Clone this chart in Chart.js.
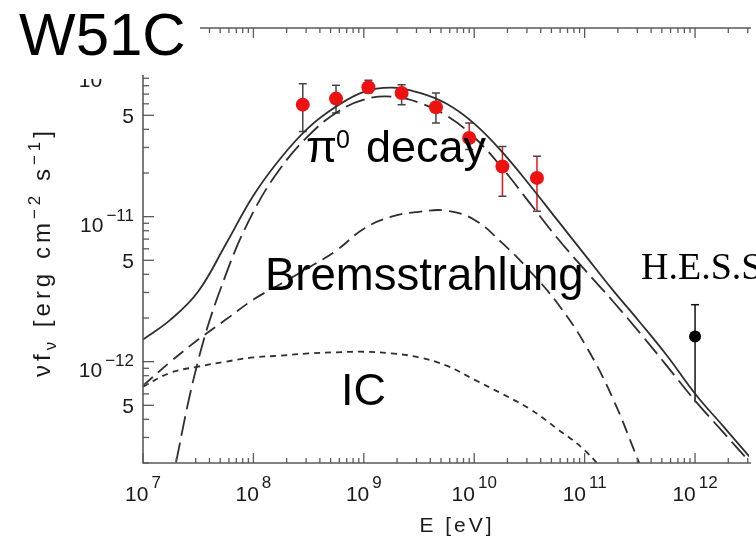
<!DOCTYPE html>
<html>
<head>
<meta charset="utf-8">
<script src="https://cdn.jsdelivr.net/npm/chart.js@4.4.1/dist/chart.umd.min.js"></script>
<style>
html,body{margin:0;padding:0;background:#fff;}
#wrap{width:756px;height:536px;position:relative;}
</style>
</head>
<body>
<div id="wrap"><canvas id="c" width="756" height="536"></canvas></div>
<script>
// ---------- data ----------
const energyGrid = [1e7, 1.778e7, 3.162e7, 5.623e7, 1e8, 1.778e8, 3.162e8, 5.623e8, 1e9, 1.778e9, 3.162e9, 5.623e9,
  1e10, 1.778e10, 3.162e10, 5.623e10, 1e11, 1.778e11, 3.162e11, 5.623e11, 1e12, 1.778e12, 3.162e12];
const totalFlux = [1.42e-12, 1.95e-12, 3.05e-12, 6.45e-12, 1.40e-11, 2.55e-11, 4.11e-11, 5.74e-11, 7.25e-11, 7.76e-11, 7.16e-11, 6.00e-11,
  4.38e-11, 2.81e-11, 1.66e-11, 9.53e-12, 5.47e-12, 3.15e-12, 1.87e-12, 1.09e-12, 6.01e-13, 3.62e-13, 2.18e-13];
const pi0Flux = [null, 1.33e-13, 1.02e-12, 3.98e-12, 1.08e-11, 2.18e-11, 3.62e-11, 5.21e-11, 6.41e-11, 6.73e-11, 6.11e-11, 4.97e-11,
  3.53e-11, 2.18e-11, 1.25e-11, 7.15e-12, 4.31e-12, 2.64e-12, 1.58e-12, 9.24e-13, 5.38e-13, 3.29e-13, 2.01e-13];
const bremsFlux = [6.83e-13, 1.00e-12, 1.42e-12, 1.95e-12, 2.68e-12, 3.45e-12, 4.45e-12, 5.83e-12, 8.26e-12, 1.00e-11, 1.08e-11, 1.10e-11,
  9.53e-12, 6.62e-12, 4.25e-12, 2.55e-12, 1.33e-12, 5.70e-13, 1.95e-13, null, null, null, null];
const icFlux = [6.73e-13, 8.39e-13, 9.24e-13, 1.00e-12, 1.07e-12, 1.10e-12, 1.14e-12, 1.16e-12, 1.17e-12, 1.14e-12, 1.07e-12, 9.38e-13,
  7.52e-13, 6.01e-13, 4.74e-13, 3.45e-13, 2.45e-13, 1.50e-13, null, null, null, null, null];

const fermiE  = [2.8e8, 5.6e8, 1.1e9, 2.2e9, 4.5e9, 9.0e9, 1.8e10, 3.7e10];
const fermiF  = [5.92e-11, 6.52e-11, 7.80e-11, 7.13e-11, 5.68e-11, 3.49e-11, 2.22e-11, 1.85e-11];
const fermiHi = [8.26e-11, 8.05e-11, 8.71e-11, 8.13e-11, 7.13e-11, 4.43e-11, 3.05e-11, 2.61e-11];
const fermiLo = [3.87e-11, 5.19e-11, 7.13e-11, 5.92e-11, 4.43e-11, 2.90e-11, 1.38e-11, 1.09e-11];

const hessE  = [1e12];
const hessF  = [1.49e-12];
const hessHi = [2.47e-12];
const hessLo = [5.24e-13];

const xTickValues = [1e7, 1e8, 1e9, 1e10, 1e11, 1e12];
const xTickExp    = ['7', '8', '9', '10', '11', '12'];
const yTickValues = [1e-12, 1e-11, 1e-10];
const yTickExp    = ['\u221212', '\u221211', '\u221210'];
const yFiveValues = [5e-13, 5e-12, 5e-11];
const yFiveLabel  = '5';

const titleText = 'W51C';
const xTitle = 'E [eV]';
const labelPi0 = ['\u03c0', '0', 'decay'];
const labelBrems = 'Bremsstrahlung';
const labelIC = 'IC';
const labelHess = 'H.E.S.S.';

// ---------- drawing ----------
const SANS = '"Liberation Sans", Arial, sans-serif';
const SERIF = '"Liberation Serif", "Times New Roman", serif';
const AXIS = '#5a5a5a';
const CURVE = '#2e2e2e';

function pts(xs, ys){ return xs.map((x,i)=>({x:x, y:ys[i]})); }

const overlay = {
  id: 'overlay',
  beforeDatasetsDraw(chart){
    const ctx = chart.ctx, xs = chart.scales.x, ys = chart.scales.y;
    ctx.save();
    ctx.lineWidth = 1.5;
    for (let i = 0; i < fermiE.length; i++){
      const px = xs.getPixelForValue(fermiE[i]);
      const yh = ys.getPixelForValue(fermiHi[i]);
      const yl = ys.getPixelForValue(fermiLo[i]);
      ctx.strokeStyle = i >= 5 ? '#e8141c' : '#444';
      ctx.beginPath(); ctx.moveTo(px, yh); ctx.lineTo(px, yl); ctx.stroke();
      ctx.strokeStyle = '#444';
      ctx.beginPath();
      ctx.moveTo(px-4, yh); ctx.lineTo(px+4, yh);
      ctx.moveTo(px-4, yl); ctx.lineTo(px+4, yl);
      ctx.stroke();
    }
    ctx.strokeStyle = '#111';
    for (let i = 0; i < hessE.length; i++){
      const px = xs.getPixelForValue(hessE[i]);
      const yh = ys.getPixelForValue(hessHi[i]);
      const yl = ys.getPixelForValue(hessLo[i]);
      ctx.beginPath(); ctx.moveTo(px, yh); ctx.lineTo(px, yl); ctx.stroke();
      ctx.beginPath(); ctx.moveTo(px-4, yh); ctx.lineTo(px+4, yh); ctx.stroke();
    }
    ctx.restore();
  },
  afterDraw(chart){
    const ctx = chart.ctx, xs = chart.scales.x, ys = chart.scales.y, a = chart.chartArea;
    ctx.save();
    // axes box
    ctx.strokeStyle = AXIS; ctx.lineWidth = 1.6;
    ctx.beginPath();
    ctx.moveTo(a.left, a.top); ctx.lineTo(a.left, a.bottom); ctx.lineTo(a.right+2, a.bottom);
    ctx.moveTo(a.left, a.top); ctx.lineTo(a.right+2, a.top);
    ctx.stroke();
    // ticks
    ctx.lineWidth = 1.3;
    const xmin = Math.log10(xs.min), xmax = Math.log10(xs.max);
    for (let d = Math.floor(xmin); d <= Math.ceil(xmax); d++){
      for (let m = 1; m <= 9; m++){
        const v = m * Math.pow(10, d);
        if (v < xs.min*0.999 || v > xs.max) continue;
        const px = xs.getPixelForValue(v);
        const len = m === 1 ? 10 : 5;
        ctx.beginPath();
        ctx.moveTo(px, a.bottom); ctx.lineTo(px, a.bottom - len);
        ctx.moveTo(px, a.top); ctx.lineTo(px, a.top + len);
        ctx.stroke();
      }
    }
    const ymin = Math.log10(ys.min), ymax = Math.log10(ys.max);
    for (let d = Math.floor(ymin); d <= Math.ceil(ymax); d++){
      for (let m = 1; m <= 9; m++){
        const v = m * Math.pow(10, d);
        if (v < ys.min*0.999 || v > ys.max*1.001) continue;
        const py = ys.getPixelForValue(v);
        const len = (m === 1 || m === 5) ? 11 : 6;
        ctx.beginPath(); ctx.moveTo(a.left, py); ctx.lineTo(a.left + len, py); ctx.stroke();
      }
    }
    // tick labels
    ctx.fillStyle = '#1a1a1a';
    ctx.textBaseline = 'alphabetic';
    ctx.textAlign = 'left';
    const baseFont = '21px ' + SANS, expFont = '17px ' + SANS;
    function powWidth(b, e){
      ctx.font = baseFont; const wb = ctx.measureText(b).width;
      ctx.font = expFont; const we = ctx.measureText(e).width;
      return [wb, we, wb + 3 + we];
    }
    function drawPow(b, e, x0, yb, ye){
      const w = powWidth(b, e);
      ctx.font = baseFont; ctx.fillText(b, x0, yb);
      ctx.font = expFont; ctx.fillText(e, x0 + w[0] + 3, ye);
    }
    for (let i = 0; i < xTickValues.length; i++){
      const px = xs.getPixelForValue(xTickValues[i]);
      const w = powWidth('10', xTickExp[i]);
      drawPow('10', xTickExp[i], px - w[2]/2, a.bottom + 38, a.bottom + 25);
    }
    for (let i = 0; i < yTickValues.length; i++){
      const py = ys.getPixelForValue(yTickValues[i]);
      const w = powWidth('10', yTickExp[i]);
      drawPow('10', yTickExp[i], 134 - w[2], py + 15, py + 4);
    }
    ctx.font = baseFont; ctx.textAlign = 'right';
    for (let i = 0; i < yFiveValues.length; i++){
      const py = ys.getPixelForValue(yFiveValues[i]);
      ctx.fillText(yFiveLabel, 134, py + 8);
    }
    // axis titles
    ctx.textAlign = 'center';
    ctx.font = '21px ' + SANS;
    try { ctx.letterSpacing = '3px'; } catch(e) {}
    ctx.fillText(xTitle, 457, 532);
    // y title rotated
    ctx.save();
    ctx.translate(42, 252);
    ctx.rotate(-Math.PI/2);
    try { ctx.letterSpacing = '4px'; } catch(e) {}
    const parts = [['\u03bdf','24px',0],['\u03bd','17px',6],[' [erg cm','24px',0],['\u22122','17px',-10],[' s','24px',0],['\u22121','17px',-10],[']','24px',0]];
    let tot = 0;
    parts.forEach(p=>{ ctx.font = p[1]+' '+SANS; tot += ctx.measureText(p[0]).width; });
    let cx = -tot/2;
    ctx.textAlign = 'left';
    parts.forEach(p=>{ ctx.font = p[1]+' '+SANS; ctx.fillText(p[0], cx, 8 + p[2]); cx += ctx.measureText(p[0]).width; });
    ctx.restore();
    try { ctx.letterSpacing = '0px'; } catch(e) {}
    // white mask under title
    ctx.fillStyle = '#fff';
    ctx.fillRect(0, 0, 200, 75);
    ctx.fillRect(0, 75, 136, 4);
    // title
    ctx.fillStyle = '#000';
    ctx.textAlign = 'left';
    ctx.font = '60px ' + SANS;
    ctx.fillText(titleText, 19, 55);
    // annotations
    ctx.font = '45px ' + SANS;
    ctx.fillText(labelPi0[0], 306, 162);
    ctx.font = '25px ' + SANS;
    ctx.fillText(labelPi0[1], 336, 148);
    ctx.font = '45px ' + SANS;
    ctx.fillText(labelPi0[2], 366, 162);
    ctx.font = '45.5px ' + SANS;
    ctx.fillText(labelBrems, 265, 290);
    ctx.font = '45px ' + SANS;
    ctx.fillText(labelIC, 341, 405);
    ctx.font = '38px ' + SERIF;
    ctx.fillText(labelHess, 641, 279);
    ctx.restore();
  }
};

const lineDs = (label, ys, dash) => ({
  label: label, data: pts(energyGrid, ys), borderColor: CURVE, borderWidth: 1.8,
  borderDash: dash, pointRadius: 0, fill: false, tension: 0.4, spanGaps: false, order: 5
});

new Chart(document.getElementById('c').getContext('2d'), {
  type: 'line',
  data: {
    datasets: [
      { label: 'Fermi', data: pts(fermiE, fermiF), showLine: false, pointRadius: 7, pointHoverRadius: 7,
        pointBackgroundColor: '#ee1111', pointBorderColor: '#ee1111', pointBorderWidth: 0, order: 0 },
      { label: 'HESS', data: pts(hessE, hessF), showLine: false, pointRadius: 6, pointHoverRadius: 6,
        pointBackgroundColor: '#000', pointBorderColor: '#000', pointBorderWidth: 0, order: 0 },
      lineDs('total', totalFlux, []),
      lineDs('pi0', pi0Flux, [20, 7]),
      lineDs('brems', bremsFlux, [13, 7]),
      lineDs('IC', icFlux, [6, 5])
    ]
  },
  options: {
    responsive: false, animation: false, devicePixelRatio: 1,
    layout: { padding: { top: 28, left: 0, right: 0, bottom: 0 } },
    plugins: { legend: { display: false }, tooltip: { enabled: false } },
    scales: {
      x: { type: 'logarithmic', min: 1e7, max: 3.08e12,
           grid: { display: false }, border: { display: false }, ticks: { display: false },
           afterFit(s){ s.height = 73; } },
      y: { type: 'logarithmic', min: 2e-13, max: 2e-10,
           grid: { display: false }, border: { display: false }, ticks: { display: false },
           afterFit(s){ s.width = 143; } }
    }
  },
  plugins: [overlay]
});
</script>
</body>
</html>
